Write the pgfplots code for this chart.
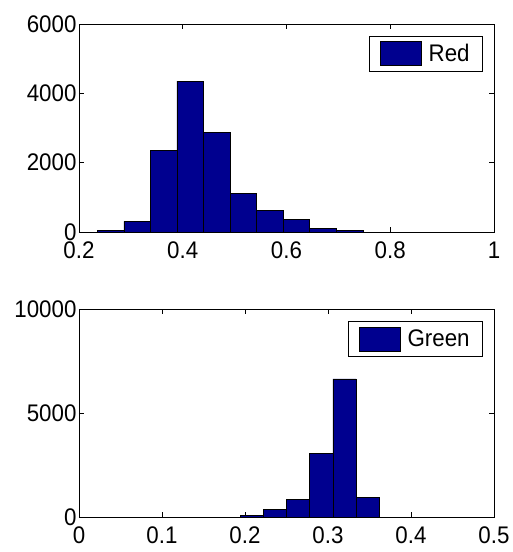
\documentclass[border=0pt]{standalone}
\usepackage{fontspec}
\setmainfont{Liberation Sans}[FakeStretch=0.93]
\usepackage{pgfplots}
\pgfplotsset{compat=1.18}
\definecolor{mnavy}{rgb}{0,0,0.5625}

\pgfplotsset{
  histax/.style={
    scale only axis,
    width=415pt, height=208pt,
    axis line style={line width=0.7pt},
    tick style={line width=0.7pt, black},
    tick align=inside,
    major tick length=5pt,
    xtick pos=both, ytick pos=both,
    ymin=0,
    scaled y ticks=false,
    tick label style={font=\fontsize{24}{26}\selectfont},
    /pgf/number format/assume math mode=true,
    /pgf/number format/1000 sep={},
    xticklabel style={yshift=-6pt},
    yticklabel style={xshift=1pt},
    legend style={at={(1,1)}, anchor=north east, xshift=-11pt, yshift=-12pt,
      draw=black, line width=0.7pt, font=\fontsize{24}{26}\selectfont,
      inner xsep=11pt, inner ysep=5pt},
    legend image code/.code={\draw[fill=mnavy, draw=black, line width=0.7pt] (0pt,-12pt) rectangle (41pt,12pt); \path (46pt,0pt);},
  },
}

\begin{document}
\begin{tikzpicture}[x=1pt,y=1pt]
\useasboundingbox (0,0) rectangle (512,-552);

% top: Red channel histogram
\begin{axis}[histax, at={(79pt,-24pt)}, anchor=north west,
    xmin=0.2, xmax=1, ymax=6000,
    xtick={0.2,0.4,0.6,0.8,1}, xticklabels={0.2,0.4,0.6,0.8,1},
    ytick={0,2000,4000,6000}]
\addplot[ybar interval, fill=mnavy, draw=black, line width=0.7pt] coordinates {
  (0.2353,48) (0.2865,307) (0.3377,2352) (0.3889,4349) (0.4401,2870)
  (0.4913,1104) (0.5425,624) (0.5937,355) (0.6449,96) (0.6961,48) (0.7473,48)
};
\addlegendentry{Red}
\end{axis}

% bottom: Green channel histogram
\begin{axis}[histax, at={(79pt,-309.3pt)}, anchor=north west,
    xmin=0, xmax=0.5, ymax=10000,
    xtick={0,0.1,0.2,0.3,0.4,0.5}, xticklabels={0,0.1,0.2,0.3,0.4,0.5},
    ytick={0,5000,10000}]
\addplot[ybar interval, fill=mnavy, draw=black, line width=0.7pt] coordinates {
  (0.194,80) (0.222,383) (0.250,877) (0.278,3078) (0.306,6651) (0.334,973) (0.362,973)
};
\addlegendentry{Green}
\end{axis}
\end{tikzpicture}
\end{document}
